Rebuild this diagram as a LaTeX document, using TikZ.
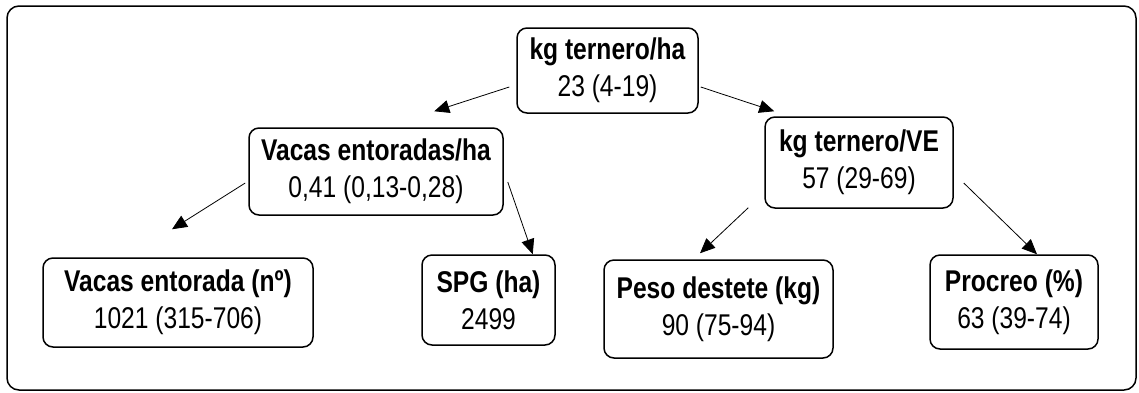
\documentclass[tikz,border=0pt]{standalone}
\usepackage{fontspec}
\setmainfont[FakeStretch=0.82]{Liberation Sans}
\usetikzlibrary{arrows.meta,calc}
\begin{document}
\begin{tikzpicture}[x=1pt,y=-1pt,
  box/.style={draw, line width=1.5pt, rounded corners=10pt, inner sep=0pt,
    align=center, font=\fontsize{30}{37}\selectfont},
  arr/.style={line width=0.8pt, -{Triangle[length=15pt,width=13pt]}}]
\useasboundingbox (0,0) rectangle (1139,392);
% outer frame
\draw[line width=1.5pt, rounded corners=12pt] (7,6) rectangle (1136,390);

% nodes
\node[box, minimum width=181pt, minimum height=85pt] (top) at (607.5,70.5)
  {\textbf{kg ternero/ha}\\23 (4-19)};
\node[box, minimum width=254pt, minimum height=87pt] (vh) at (376,171.5)
  {\textbf{Vacas entoradas/ha}\\0,41 (0,13-0,28)};
\node[box, minimum width=188pt, minimum height=91pt] (kv) at (859,162.5)
  {\textbf{kg ternero/VE}\\57 (29-69)};
\node[box, minimum width=270pt, minimum height=89pt] (ve) at (178,302.5)
  {\textbf{Vacas entorada (nº)}\\1021 (315-706)};
\node[box, minimum width=133pt, minimum height=90pt] (spg) at (488.5,300)
  {\textbf{SPG (ha)}\\2499};
\node[box, minimum width=229pt, minimum height=98pt] (pd) at (718.5,309)
  {\textbf{Peso destete (kg)}\\90 (75-94)};
\node[box, minimum width=168pt, minimum height=94pt] (pr) at (1014,302)
  {\textbf{Procreo (\%)}\\63 (39-74)};

% connectors
\draw[arr] ($(top.west)+(-7,16.5)$) -- ($(vh.north west)+(186,-16)$);
\draw[arr] ($(top.east)+(2,16.5)$) -- ($(kv.north west)+(10,-5)$);
\draw[arr] ($(vh.west)+(-3,11.5)$) -- ($(ve.north)+(-6,-28)$);
\draw[arr] ($(vh.east)+(4,10.5)$) -- ($(spg.north east)+(-23,0)$);
\draw[arr] ($(kv.south west)+(-16,-1)$) -- ($(pd.north)+(-18.5,-6)$);
\draw[arr] ($(kv.east)+(10,20.5)$) -- ($(pr.north)+(23,0)$);
\end{tikzpicture}
\end{document}
